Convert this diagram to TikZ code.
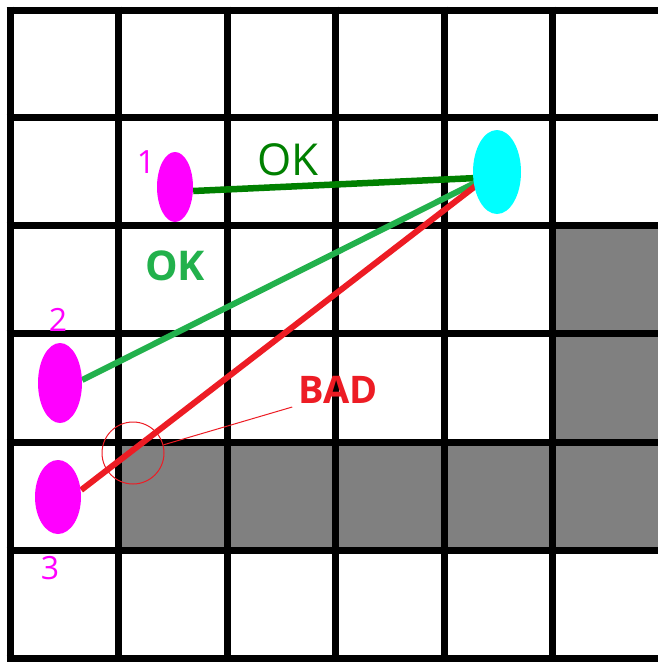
\documentclass[tikz,border=0pt]{standalone}
\usepackage{fontspec}
\setmainfont{Open Sans}
\usetikzlibrary{shapes.geometric,calc}
\definecolor{mag}{RGB}{255,0,255}
\definecolor{cy}{RGB}{0,255,255}
\definecolor{dgreen}{RGB}{0,128,0}
\definecolor{lgreen}{RGB}{34,177,76}
\definecolor{bred}{RGB}{237,28,36}
\definecolor{obst}{RGB}{128,128,128}
\pgfdeclarelayer{bg}
\pgfdeclarelayer{edges}
\pgfsetlayers{bg,edges,main}
\tikzset{
  gridline/.style={line width=7pt, black},
  blocked/.style={fill=obst},
  agent/.style={ellipse, fill=mag, inner sep=0pt},
  target/.style={ellipse, fill=cy, inner sep=0pt, minimum width=48pt, minimum height=84pt},
  numlabel/.style={text=mag, font=\fontsize{32}{32}\selectfont, inner sep=0pt},
  path/.style={line width=6.5pt},
}
\begin{document}
\begin{tikzpicture}[x=1pt,y=-1pt]
\useasboundingbox (0,0) rectangle (657,662);
\begin{pgfonlayer}{bg}
\fill[white] (0,0) rectangle (657,662);
% obstacles
\fill[blocked] (552,225) rectangle (661,442);
\fill[blocked] (118,442) rectangle (661,550);
% grid
\foreach \x in {10,118.5,227,335.5,444,552.5,661}
  \draw[gridline] (\x,6.5) -- (\x,661.5);
\foreach \y in {10,117.5,225,333.5,442,550,658}
  \draw[gridline] (6.5,\y) -- (664.5,\y);
\end{pgfonlayer}

% cells
\node[agent, minimum width=36pt, minimum height=70pt] (n1) at (175,187) {};
\node[agent, minimum width=44pt, minimum height=80pt] (n2) at (60,383) {};
\node[agent, minimum width=46pt, minimum height=74pt] (n3) at (58,497) {};
\node[target] (goal) at (497,172) {};
\coordinate (g1) at ($(goal.west)+(4,6)$);
\coordinate (g2) at ($(goal.west)+(4,10)$);
\coordinate (g3) at ($(goal.west)+(4,13)$);

\begin{pgfonlayer}{edges}
\draw[path, dgreen] (n1.east) ++(0,4) coordinate (s1) -- (g1);
\draw[path, lgreen, line width=6pt] (n2.east) ++(0,-3) coordinate (s2) -- (g2);
\draw[path, bred, line width=6pt] (n3.east) ++(0,-7) coordinate (s3) -- (g3);
\end{pgfonlayer}

% labels
\node[numlabel] (l1) at (146,162) {1};
\node[numlabel] (l2) at (58,320) {2};
\node[numlabel] (l3) at (50,568) {3};
\node[text=dgreen, font=\fontsize{44}{44}\selectfont, inner sep=0pt] (ok1) at (288,160) {OK};
\node[text=lgreen, font=\fontsize{41}{41}\selectfont\bfseries, inner sep=0pt] (ok2) at (175,266) {OK};
\node[text=bred, font=\fontsize{38}{38}\selectfont\bfseries, inner sep=0pt] (bad) at (338,390) {BAD};

% conflict marker
\node[circle, draw=bred, line width=1pt, minimum size=62pt, inner sep=0pt] (cut) at (133,453) {};
\draw[bred, line width=1pt] (cut.15) -- ($(bad.west)+(-6,17)$);
\end{tikzpicture}
\end{document}
